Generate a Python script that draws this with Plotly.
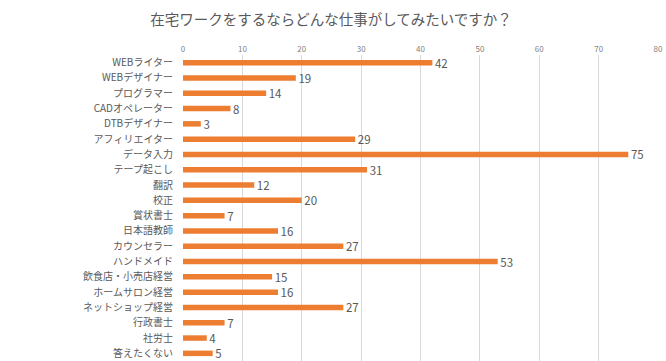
import plotly.graph_objects as go

categories = ["WEBライター", "WEBデザイナー", "プログラマー", "CADオペレーター", "DTBデザイナー",
              "アフィリエイター", "データ入力", "テープ起こし", "翻訳", "校正", "賞状書士",
              "日本語教師", "カウンセラー", "ハンドメイド", "飲食店・小売店経営", "ホームサロン経営",
              "ネットショップ経営", "行政書士", "社労士", "答えたくない"]
values = [42, 19, 14, 8, 3, 29, 75, 31, 12, 20, 7, 16, 27, 53, 15, 16, 27, 7, 4, 5]
x_ticks = [0, 10, 20, 30, 40, 50, 60, 70, 80]

font_family = "Noto Sans CJK JP, Noto Sans, sans-serif"

fig = go.Figure(go.Bar(
    x=values, y=categories, orientation="h",
    marker=dict(color="#ED7D31", line=dict(width=0)),
    text=["\u00a0" + str(v) for v in values], textposition="outside",
    constraintext="none",
    textfont=dict(size=11.5, color="#595959", family=font_family),
    cliponaxis=False,
))

fig.update_layout(
    width=666, height=361,
    margin=dict(l=183, r=8, t=55, b=0, autoexpand=False),
    paper_bgcolor="white", plot_bgcolor="white",
    bargap=0.64,
    showlegend=False,
    title=dict(text="在宅ワークをするならどんな仕事がしてみたいですか？",
               x=0.497, xanchor="center", y=0.945, yanchor="middle",
               xref="container", yref="container",
               font=dict(size=14.5, color="#595959", family=font_family)),
    xaxis=dict(side="top", range=[0, 80], tickvals=x_ticks, showgrid=True,
               gridcolor="#D9D9D9", gridwidth=1, zeroline=False, showline=False,
               automargin=False,
               tickfont=dict(size=8, color="#7F7F7F", family=font_family), ticks=""),
    yaxis=dict(autorange="reversed", showgrid=False, showline=False, ticks="",
               automargin=False, ticklabelstandoff=9,
               tickfont=dict(size=10, color="#595959", family=font_family)),
)

fig.write_html("out.html", config={"displayModeBar": False},
               post_script="document.body.style.margin='0';document.body.style.overflow='hidden';")
